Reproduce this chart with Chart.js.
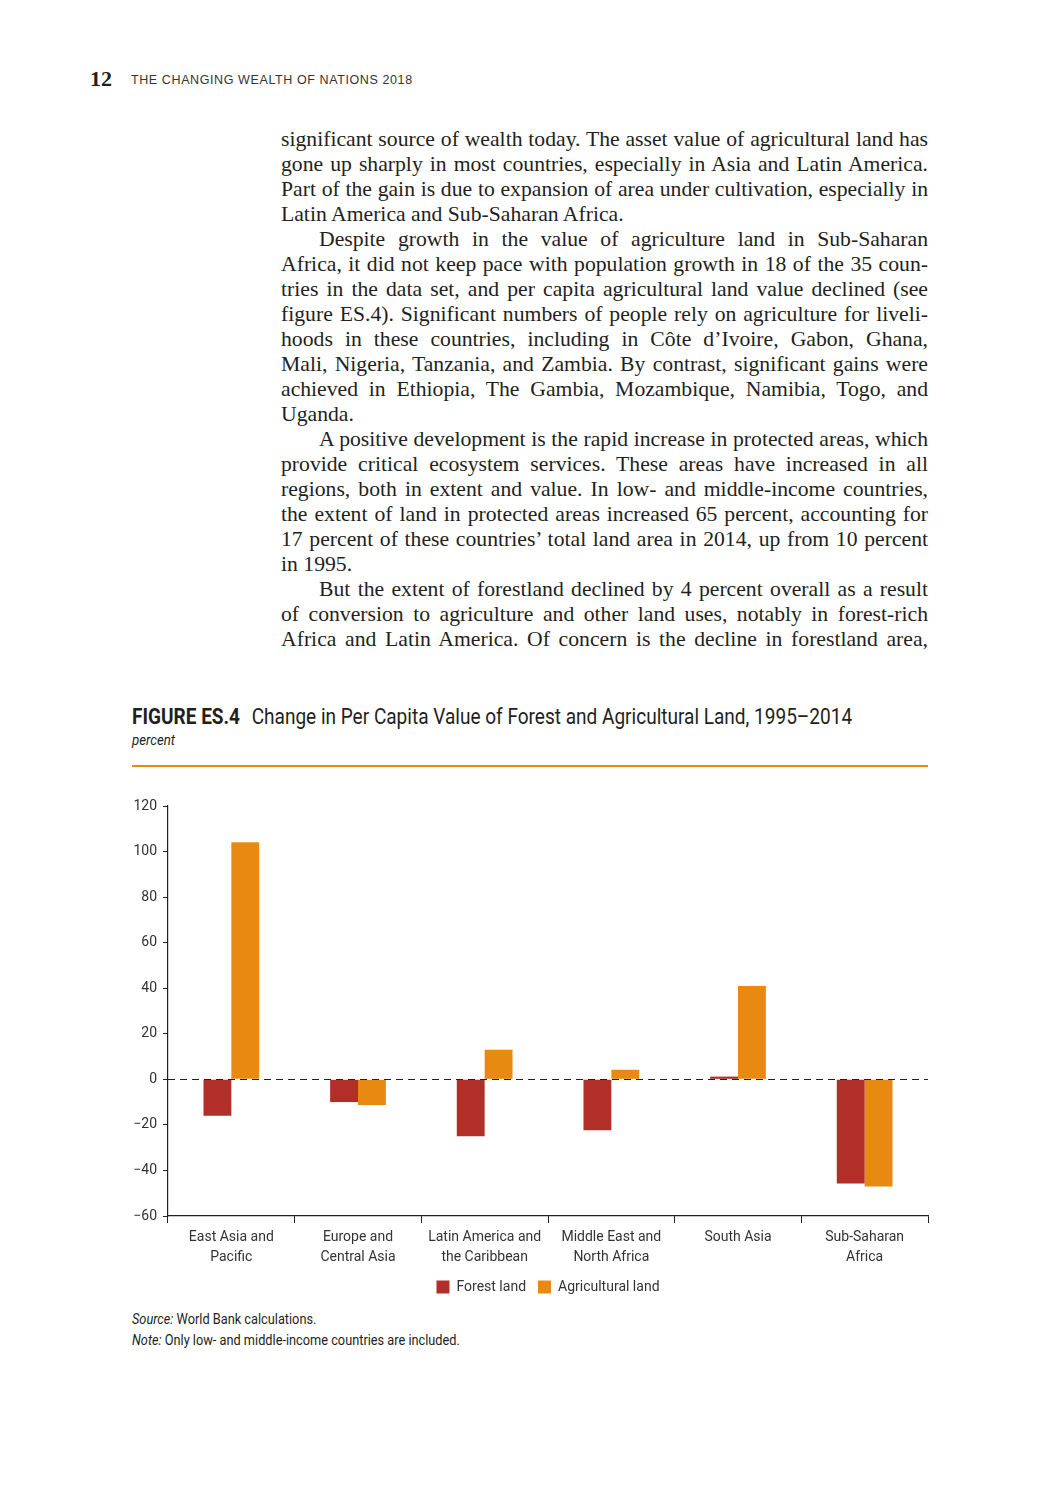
<!DOCTYPE html>
<html>
<head>
<meta charset="utf-8">
<script src="https://cdn.jsdelivr.net/npm/chart.js@4.4.1/dist/chart.umd.min.js"></script>
<style>
  body { margin: 0; background: #fff; width: 1050px; height: 1500px; position: relative; color: #231f20; }
  .abs { position: absolute; white-space: nowrap; }
  .pageno { left: 90px; top: 66px; font: bold 22px "Liberation Serif", serif; }
  .runhead { left: 131px; top: 73px; font: 12.5px "Liberation Sans", sans-serif; letter-spacing: 0.6px; color: #333; }
  .body { position: absolute; left: 281px; top: 127px; width: 647px; font: 21.7px "Liberation Serif", serif; color: #231f20; }
  .body div { height: 25px; line-height: 25px; text-align: justify; text-align-last: justify; white-space: nowrap; }
  .body div.last { text-align-last: left; }
  .body div.ind { padding-left: 38px; }
  .narrow { font-family: "Roboto", "Liberation Sans", sans-serif; transform-origin: 0 50%; }
  .title { left: 132px; top: 704px; font-size: 22px; color: #231f20; transform: scaleX(0.865); }
  .title b { font-weight: bold; margin-right: 8px; }
  .unit { left: 132px; top: 731px; font-size: 15px; font-style: italic; color: #231f20; transform: scaleX(0.88); }
  .rule { position: absolute; left: 132px; top: 765px; width: 796px; height: 2px; background: #e8890c; }
  .chartbox { position: absolute; left: 120px; top: 790px; width: 820px; height: 514px; }
  .src { left: 132px; font-size: 14.5px; color: #231f20; transform: scaleX(0.88); }
</style>
</head>
<body>
<div class="abs pageno">12</div>
<div class="abs runhead">THE CHANGING WEALTH OF NATIONS 2018</div>

<div class="body">
  <div>significant source of wealth today. The asset value of agricultural land has</div>
  <div>gone up sharply in most countries, especially in Asia and Latin America.</div>
  <div>Part of the gain is due to expansion of area under cultivation, especially in</div>
  <div class="last">Latin America and Sub-Saharan Africa.</div>
  <div class="ind">Despite growth in the value of agriculture land in Sub-Saharan</div>
  <div>Africa, it did not keep pace with population growth in 18 of the 35 coun-</div>
  <div>tries in the data set, and per capita agricultural land value declined (see</div>
  <div>figure ES.4). Significant numbers of people rely on agriculture for liveli-</div>
  <div>hoods in these countries, including in Côte d’Ivoire, Gabon, Ghana,</div>
  <div>Mali, Nigeria, Tanzania, and Zambia. By contrast, significant gains were</div>
  <div>achieved in Ethiopia, The Gambia, Mozambique, Namibia, Togo, and</div>
  <div class="last">Uganda.</div>
  <div class="ind">A positive development is the rapid increase in protected areas, which</div>
  <div>provide critical ecosystem services. These areas have increased in all</div>
  <div>regions, both in extent and value. In low- and middle-income countries,</div>
  <div>the extent of land in protected areas increased 65 percent, accounting for</div>
  <div>17 percent of these countries’ total land area in 2014, up from 10 percent</div>
  <div class="last">in 1995.</div>
  <div class="ind">But the extent of forestland declined by 4 percent overall as a result</div>
  <div>of conversion to agriculture and other land uses, notably in forest-rich</div>
  <div>Africa and Latin America. Of concern is the decline in forestland area,</div>
</div>

<div class="abs narrow title"><b>FIGURE ES.4</b> Change in Per Capita Value of Forest and Agricultural Land, 1995–2014</div>
<div class="abs narrow unit">percent</div>
<div class="rule"></div>

<div class="chartbox"><canvas id="chart"></canvas></div>

<div class="abs narrow src" style="top:1311px;"><i>Source:</i> World Bank calculations.</div>
<div class="abs narrow src" style="top:1332px;"><i>Note:</i> Only low- and middle-income countries are included.</div>

<script>
const regions = [
  ['East Asia and', 'Pacific'],
  ['Europe and', 'Central Asia'],
  ['Latin America and', 'the Caribbean'],
  ['Middle East and', 'North Africa'],
  ['South Asia'],
  ['Sub-Saharan', 'Africa']
];
const forestLand = [-16, -10, -25, -22.3, 1.2, -45.7];
const agriculturalLand = [104.1, -11.3, 13, 4.2, 41, -47];
const yMin = -60;
const yMax = 120;
const yStep = 20;

const chartFont = '"Roboto", "Liberation Sans", sans-serif';
const axisColor = '#231f20';

// dashed line at zero
const zeroLine = {
  id: 'zeroLine',
  afterDatasetsDraw(chart) {
    const { ctx, chartArea, scales } = chart;
    const y = Math.round(scales.y.getPixelForValue(0)) + 0.5;
    ctx.save();
    ctx.strokeStyle = '#231f20';
    ctx.lineWidth = 1.2;
    ctx.setLineDash([7, 5]);
    ctx.beginPath();
    ctx.moveTo(chartArea.left, y);
    ctx.lineTo(chartArea.right, y);
    ctx.stroke();
    ctx.restore();
  }
};

new Chart(document.getElementById('chart'), {
  type: 'bar',
  data: {
    labels: regions,
    datasets: [
      {
        label: 'Forest land',
        data: forestLand,
        backgroundColor: '#b22e29',
        barPercentage: 1,
        categoryPercentage: 0.44
      },
      {
        label: 'Agricultural land',
        data: agriculturalLand,
        backgroundColor: '#e88a12',
        barPercentage: 1,
        categoryPercentage: 0.44
      }
    ]
  },
  options: {
    responsive: true,
    maintainAspectRatio: false,
    animation: false,
    layout: { padding: { top: 16, right: 12, left: 0, bottom: 0 } },
    scales: {
      x: {
        afterFit(scale) { scale.height = 52; },
        grid: { offset: true, drawOnChartArea: false, tickLength: 7, color: axisColor, lineWidth: 1 },
        border: { color: axisColor, width: 1.2 },
        ticks: {
          color: '#333',
          padding: 5,
          maxRotation: 0,
          autoSkip: false,
          font: { family: chartFont, size: 14, lineHeight: 1.4 }
        }
      },
      y: {
        min: yMin,
        max: yMax,
        afterFit(scale) { scale.width = 48; },
        grid: { drawOnChartArea: false, tickLength: 5, color: axisColor },
        border: { color: axisColor, width: 1.2 },
        ticks: {
          stepSize: yStep,
          color: '#333',
          padding: 6,
          font: { family: chartFont, size: 14 },
          callback: v => (v < 0 ? '\u2212' + Math.abs(v) : String(v))
        }
      }
    },
    plugins: {
      legend: {
        position: 'bottom',
        fullSize: false,
        labels: {
          boxWidth: 13,
          boxHeight: 13,
          padding: 12,
          color: '#333',
          font: { family: chartFont, size: 14 }
        }
      },
      tooltip: { enabled: false }
    }
  },
  plugins: [zeroLine]
});
</script>
</body>
</html>
